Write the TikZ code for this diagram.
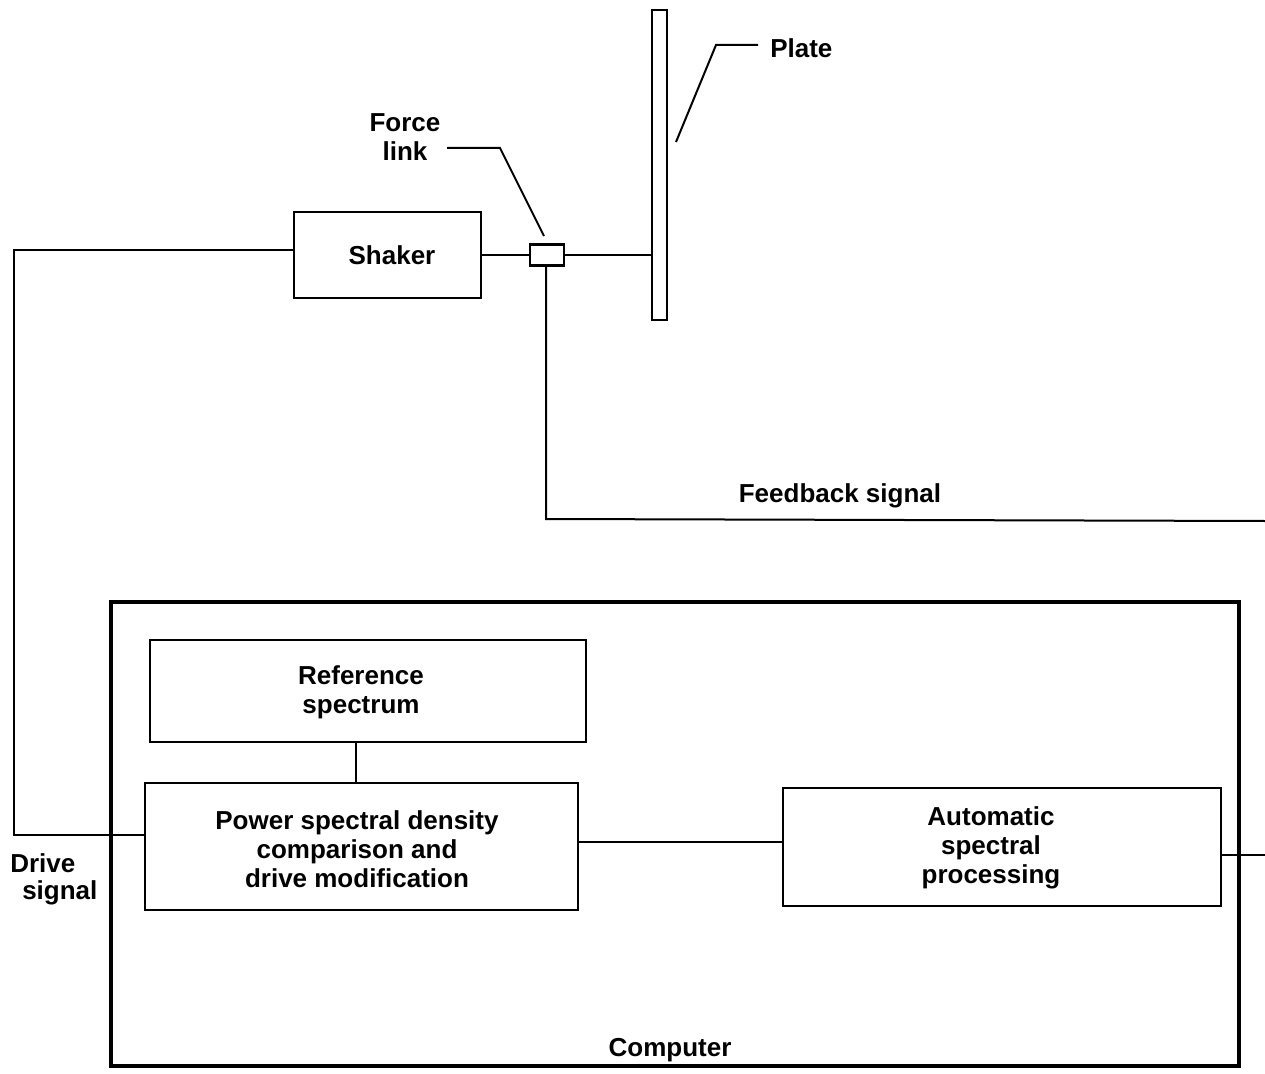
\documentclass[tikz,border=0pt]{standalone}
\usepackage{fontspec}
\setmainfont{Liberation Sans}
\begin{document}
\begin{tikzpicture}[x=0.75pt,y=-0.75pt,
  lbl/.style={font=\bfseries\fontsize{19.5}{21.75}\selectfont, align=center, inner sep=0pt},
  blk/.style={draw, line width=1.9pt, inner sep=0pt},
  wire/.style={line width=1.5pt}]
\useasboundingbox (0,0) rectangle (1265,1074);
% plate
\node[blk, minimum width=11.25pt, minimum height=232.5pt] (plate) at (659.5,165) {};
\node[lbl, anchor=west] (platelbl) at (770,48) {Plate};
\coordinate (pk) at (716,45);
\coordinate (pe) at (758,45);
\draw[wire] (676,142) -- (pk) -- (pe);
% force link
\node[blk, minimum width=25.5pt, minimum height=15.75pt] (fl) at (547,255) {};
\node[lbl] (fllbl) at (405,137) {Force\\link};
\coordinate (fk) at (500,148);
\coordinate (fs) at (447,148);
\draw[wire] (fs) -- (fk) -- (544,236);
% shaker
\node[blk, minimum width=140.25pt, minimum height=64.5pt] (shaker) at (387.5,255) {};
\node[lbl] (shakertxt) at (392,255) {Shaker};
\draw[wire] (shaker.east) -- (fl.west);
\draw[wire] (fl.east) -- (plate.west |- fl.east);
% feedback
\coordinate (fbend) at (546,519);
\coordinate (fbr) at (1265,521);
\draw[wire] (fl.south -| 546,0) -- (fbend) -- (fbr);
\node[lbl] (fblbl) at (840,496) {Feedback signal};
% computer
\draw[line width=3pt] (111,602) rectangle (1239,1066);
\node[lbl] (comp) at (670,1050) {Computer};
% blocks
\node[blk, minimum width=327pt, minimum height=76.5pt] (ref) at (368,691) {};
\node[lbl] (reftxt) at (361,692) {Reference\\spectrum};
\node[blk, minimum width=324.75pt, minimum height=95.25pt] (psd) at (361.5,846.5) {};
\node[lbl] (psdtxt) at (357,849) {Power spectral density\\comparison and\\drive modification};
\node[blk, minimum width=328.5pt, minimum height=88.5pt] (asp) at (1002,847) {};
\node[lbl] (asptxt) at (991,848) {Automatic\\spectral\\processing};
\draw[wire] (ref.south -| 356,0) -- (psd.north -| 356,0);
\draw[wire] (psd.east |- 0,842) -- (asp.west |- 0,842);
\coordinate (aspr) at (1265,855);
\draw[wire] (asp.east |- aspr) -- (aspr);
% drive signal
\coordinate (d1) at (14,250);
\coordinate (d2) at (14,835);
\draw[wire] (shaker.west |- d1) -- (d1) -- (d2) -- (psd.west |- d2);
\node[lbl, anchor=west] (dr1) at (10,863) {Drive};
\node[lbl, anchor=west] (dr2) at (22,893) {signal};
\end{tikzpicture}
\end{document}
